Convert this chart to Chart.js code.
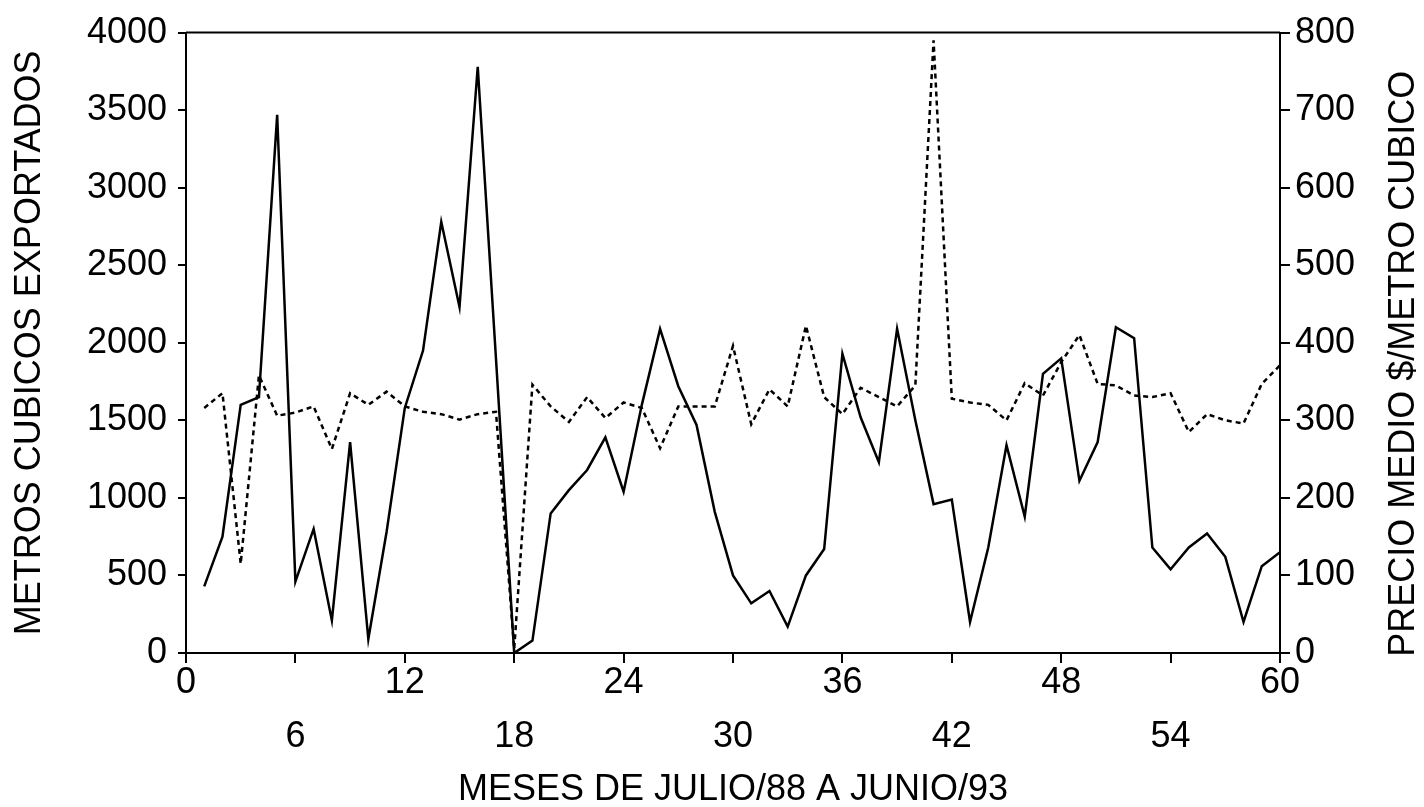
<!DOCTYPE html>
<html>
<head>
<meta charset="utf-8">
<style>
  html, body { margin: 0; padding: 0; background: #fff; }
  #wrap { width: 1424px; height: 807px; }
</style>
<script src="https://cdn.jsdelivr.net/npm/chart.js@4.4.1/dist/chart.umd.min.js"></script>
</head>
<body>
<div id="wrap"><canvas id="myChart" width="1424" height="807"></canvas></div>
<script>
// months, July/88 .. June/93
const meses = [1, 2, 3, 4, 5, 6, 7, 8, 9, 10, 11, 12, 13, 14, 15, 16, 17, 18, 19, 20,
  21, 22, 23, 24, 25, 26, 27, 28, 29, 30, 31, 32, 33, 34, 35, 36, 37, 38, 39, 40,
  41, 42, 43, 44, 45, 46, 47, 48, 49, 50, 51, 52, 53, 54, 55, 56, 57, 58, 59, 60];

// metros cubicos exportados (left axis)
const volumen = [430, 750, 1600, 1650, 3470, 460, 800, 210, 1360, 90,
  780, 1580, 1950, 2780, 2230, 3780, 1900, 0, 80, 900,
  1050, 1180, 1390, 1040, 1600, 2090, 1720, 1470, 910, 500,
  320, 400, 170, 500, 670, 1930, 1520, 1230, 2090, 1500,
  960, 990, 200, 680, 1340, 880, 1800, 1900, 1110, 1360,
  2100, 2030, 680, 540, 680, 770, 620, 200, 560, 650];

// precio medio $/metro cubico (right axis)
const precio = [316, 335, 115, 358, 306, 310, 318, 263, 335, 320,
  337, 318, 311, 308, 301, 308, 311, 5, 346, 318,
  298, 330, 303, 323, 316, 264, 318, 318, 318, 396,
  295, 340, 318, 422, 330, 308, 342, 330, 318, 345,
  790, 328, 323, 320, 300, 348, 332, 375, 410, 347,
  345, 332, 330, 335, 285, 308, 300, 296, 347, 371];

const xTicks = [0, 6, 12, 18, 24, 30, 36, 42, 48, 54, 60];

Chart.defaults.font.family = "'Liberation Sans', Arial, sans-serif";
Chart.defaults.color = '#000';

// top frame line + right axis title reading upwards
const frame = {
  id: 'frame',
  afterDraw(chart) {
    const {ctx, chartArea} = chart;
    ctx.save();
    ctx.strokeStyle = '#000';
    ctx.lineWidth = 2;
    ctx.beginPath();
    ctx.moveTo(chartArea.left, chartArea.top);
    ctx.lineTo(chartArea.right, chartArea.top);
    ctx.stroke();

    ctx.translate(chart.width - 20, (chartArea.top + chartArea.bottom) / 2 + 21);
    ctx.rotate(-Math.PI / 2);
    ctx.font = "36px 'Liberation Sans', Arial, sans-serif";
    ctx.fillStyle = '#000';
    ctx.textAlign = 'center';
    ctx.textBaseline = 'middle';
    ctx.fillText('PRECIO MEDIO $/METRO CUBICO', 0, 0);
    ctx.restore();
  }
};

const axisGrid = (len) => ({ drawOnChartArea: false, tickLength: len, color: '#000', lineWidth: 2 });
const axisBorder = { color: '#000', width: 2 };
const plain = v => String(v);

const ctx = document.getElementById('myChart').getContext('2d');
new Chart(ctx, {
  type: 'line',
  data: {
    datasets: [{
      label: 'Metros cubicos',
      data: meses.map((m, i) => ({x: m, y: volumen[i]})),
      yAxisID: 'y',
      borderColor: '#000',
      borderWidth: 2.5,
      pointRadius: 0,
      tension: 0
    }, {
      label: 'Precio medio',
      data: meses.map((m, i) => ({x: m, y: precio[i]})),
      yAxisID: 'y2',
      borderColor: '#000',
      borderWidth: 2.5,
      borderDash: [5, 4],
      pointRadius: 0,
      tension: 0
    }]
  },
  options: {
    responsive: false,
    animation: false,
    layout: { padding: { top: 27 } },
    plugins: { legend: { display: false }, tooltip: { enabled: false } },
    scales: {
      x: {
        type: 'linear', position: 'bottom', min: 0, max: 60,
        afterBuildTicks: s => { s.ticks = xTicks.map(v => ({value: v})); },
        ticks: {
          autoSkip: false, maxRotation: 0, padding: -7,
          font: { size: 36, lineHeight: 1.5 },
          callback: v => (v % 12 === 0 ? String(v) : ['', String(v)])
        },
        grid: axisGrid(10),
        border: axisBorder,
        title: { display: true, text: 'MESES DE JULIO/88 A JUNIO/93', font: { size: 36, lineHeight: 0.95 }, padding: 0 },
        afterFit: s => { s.height = 154; }
      },
      y: {
        position: 'left', min: 0, max: 4000,
        ticks: { stepSize: 500, padding: 11, font: { size: 36 }, callback: plain },
        grid: axisGrid(8),
        border: axisBorder,
        title: { display: true, text: 'METROS CUBICOS EXPORTADOS', font: { size: 36, lineHeight: 1 }, padding: { top: 12, bottom: 0 } },
        afterFit: s => { s.width = 186; }
      },
      y2: {
        position: 'right', min: 0, max: 800,
        ticks: { stepSize: 100, padding: 5, font: { size: 36 }, callback: plain },
        grid: axisGrid(10),
        border: axisBorder,
        afterFit: s => { s.width = 144; }
      }
    }
  },
  plugins: [frame]
});
</script>
</body>
</html>
